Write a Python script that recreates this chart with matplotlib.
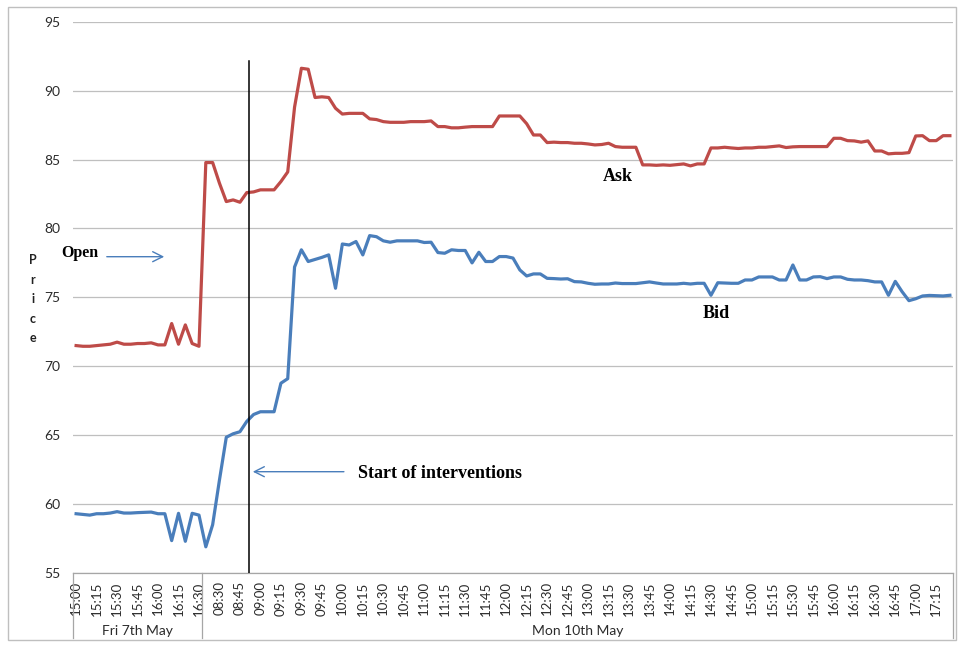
import matplotlib
matplotlib.use("Agg")
import matplotlib.pyplot as plt
import matplotlib.transforms as mtransforms
from matplotlib.patches import Rectangle


def time_range(start, end, step=5):
    h, m = map(int, start.split(":"))
    eh, em = map(int, end.split(":"))
    t, stop, out = h * 60 + m, eh * 60 + em, []
    while t <= stop:
        out.append(f"{t // 60:02d}:{t % 60:02d}")
        t += step
    return out


# ---------------- data ----------------
fri_times = time_range("15:00", "16:30")
mon_times = time_range("08:20", "17:25")
categories = fri_times + mon_times
day_labels = ["Fri 7th May", "Mon 10th May"]
day_sizes = [len(fri_times), len(mon_times)]

ask_fri = [71.5, 71.45, 71.45, 71.5, 71.55, 71.6, 71.75, 71.6, 71.6, 71.65,
           71.65, 71.7, 71.55, 71.55, 73.1, 71.6, 73.0, 71.65, 71.45]
ask_mon = [84.78, 84.78, 83.28, 81.95, 82.07, 81.9, 82.6, 82.65, 82.8, 82.8,
           82.8, 83.4, 84.1, 88.8, 91.62, 91.55, 89.5, 89.55, 89.5, 88.72,
           88.3, 88.35, 88.35, 88.35, 87.95, 87.9, 87.75, 87.7, 87.7, 87.7,
           87.75, 87.75, 87.75, 87.8, 87.39, 87.39, 87.3, 87.3, 87.35, 87.39,
           87.39, 87.39, 87.39, 88.16, 88.16, 88.16, 88.16, 87.6, 86.78, 86.78,
           86.23, 86.26, 86.23, 86.23, 86.18, 86.18, 86.13, 86.06, 86.09, 86.18,
           85.94, 85.89, 85.89, 85.89, 84.61, 84.61, 84.58, 84.61, 84.58, 84.63,
           84.68, 84.54, 84.68, 84.68, 85.84, 85.84, 85.89, 85.84, 85.8, 85.84,
           85.84, 85.89, 85.89, 85.94, 85.99, 85.87, 85.92, 85.94, 85.94, 85.94,
           85.94, 85.94, 86.54, 86.54, 86.37, 86.35, 86.26, 86.35, 85.62, 85.62,
           85.41, 85.45, 85.45, 85.5, 86.71, 86.73, 86.37, 86.37, 86.73, 86.73]
ask = ask_fri + ask_mon

bid_fri = [59.3, 59.25, 59.2, 59.3, 59.3, 59.35, 59.45, 59.35, 59.35, 59.38,
           59.4, 59.42, 59.3, 59.3, 57.35, 59.33, 57.3, 59.33, 59.2]
bid_mon = [56.9, 58.5, 61.75, 64.85, 65.1, 65.25, 66.0, 66.5, 66.7, 66.7,
           66.7, 68.77, 69.1, 77.2, 78.45, 77.6, 77.75, 77.9, 78.08, 75.66,
           78.87, 78.8, 79.05, 78.08, 79.48, 79.4, 79.1, 79.0, 79.1, 79.1,
           79.1, 79.1, 78.98, 79.0, 78.25, 78.2, 78.45, 78.4, 78.4, 77.5,
           78.27, 77.6, 77.6, 77.96, 77.96, 77.85, 76.99, 76.55, 76.7, 76.7,
           76.38, 76.36, 76.33, 76.35, 76.14, 76.12, 76.02, 75.95, 75.97, 75.97,
           76.04, 76.0, 76.0, 76.0, 76.06, 76.12, 76.04, 75.97, 75.97, 75.97,
           76.02, 75.97, 76.02, 76.02, 75.15, 76.06, 76.04, 76.02, 76.02, 76.26,
           76.26, 76.48, 76.48, 76.48, 76.26, 76.26, 77.35, 76.26, 76.26, 76.48,
           76.5, 76.36, 76.48, 76.48, 76.31, 76.26, 76.26, 76.21, 76.12, 76.12,
           75.15, 76.16, 75.41, 74.76, 74.9, 75.1, 75.14, 75.12, 75.1, 75.15]
bid = bid_fri + bid_mon

y_ticks = [55, 60, 65, 70, 75, 80, 85, 90, 95]
x_label_step = 3

# ---------------- figure ----------------
W, H = 958, 645
fig = plt.figure(figsize=(W / 100, H / 100), dpi=100)
fig.patch.set_facecolor("white")

ax_l, ax_r, ax_t, ax_b = 72.7, 953.3, 21.7, 573.0
ax = fig.add_axes([ax_l / W, 1 - ax_b / H, (ax_r - ax_l) / W, (ax_b - ax_t) / H])

n = len(categories)
xs = list(range(n))
RED = "#BE4B48"
BLUE = "#4A7EBB"
ax.plot(xs, ask, color=RED, lw=2.3, solid_joinstyle="round", zorder=3)
ax.plot(xs, bid, color=BLUE, lw=2.3, solid_joinstyle="round", zorder=3)

ax.set_xlim(-0.5, n - 0.5)
ax.set_ylim(y_ticks[0], y_ticks[-1])
ax.set_yticks(y_ticks)
ax.set_yticklabels([str(v) for v in y_ticks])
ax.yaxis.grid(True, color="#BFBFBF", lw=0.9)
ax.set_axisbelow(True)
for s in ["left", "right", "top"]:
    ax.spines[s].set_visible(False)
ax.spines["bottom"].set_color("#A6A6A6")
ax.spines["bottom"].set_linewidth(0.9)

tick_idx = list(range(0, n, x_label_step))
ax.set_xticks(tick_idx)
ax.set_xticklabels([categories[i] for i in tick_idx], rotation=90)
ax.tick_params(axis="x", length=0, pad=6, labelsize=9.5, labelcolor="#2b2b2b")
ax.tick_params(axis="y", length=0, pad=9, labelsize=10, labelcolor="#2b2b2b")
for lab in ax.get_xticklabels() + ax.get_yticklabels():
    lab.set_fontfamily("Lato")

# multi-level category axis separators and day labels
blend = mtransforms.blended_transform_factory(ax.transData, ax.transAxes)
depth = (638 - ax_b) / (ax_b - ax_t)
bounds = [-0.5]
for sz in day_sizes:
    bounds.append(bounds[-1] + sz)
for b in bounds:
    ax.plot([b, b], [0, -depth], transform=blend, color="#A6A6A6", lw=0.9, clip_on=False)
label_y = -(631 - ax_b) / (ax_b - ax_t)
for i, lab in enumerate(day_labels):
    ax.text((bounds[i] + bounds[i + 1]) / 2, label_y, lab, transform=blend,
            ha="center", va="center", fontsize=10, family="Lato", color="#2b2b2b")

# intervention marker line
intervention_x = 25.26
ax.plot([intervention_x, intervention_x], [y_ticks[0], 92.15], color="black", lw=1.1, zorder=4)


def fp(x, y):
    return (x, H - y)


# annotations
serif = "Liberation Serif"
fig.text(79.5 / W, 1 - 253 / H, "Open", ha="center", va="center", fontsize=11.5,
         fontweight="bold", family=serif)
ax.annotate("", xy=fp(167, 256.7), xytext=fp(104, 256.7), xycoords="figure pixels",
            textcoords="figure pixels",
            arrowprops=dict(arrowstyle="->", color=BLUE, lw=1.0, mutation_scale=18))
fig.text(358 / W, 1 - 474 / H, "Start of interventions", ha="left", va="center",
         fontsize=13, fontweight="bold", family=serif)
ax.annotate("", xy=fp(250, 471.7), xytext=fp(346.7, 471.7), xycoords="figure pixels",
            textcoords="figure pixels",
            arrowprops=dict(arrowstyle="->", color=BLUE, lw=1.0, mutation_scale=18))
fig.text(618 / W, 1 - 177 / H, "Ask", ha="center", va="center", fontsize=13,
         fontweight="bold", family=serif)
fig.text(716 / W, 1 - 314 / H, "Bid", ha="center", va="center", fontsize=13,
         fontweight="bold", family=serif)

# stacked y-axis title
for ch, yy in zip("Price", [260, 280, 299, 319, 338]):
    fig.text(33 / W, 1 - yy / H, ch, ha="center", va="center", fontsize=9,
             fontweight="bold", family="Lato", color="#222222")

# chart frame
fig.patches.append(Rectangle((8 / W, 1 - 640 / H), (956 - 8) / W, (640 - 6.7) / H,
                             transform=fig.transFigure, fill=False,
                             ec="#BFBFBF", lw=1.0))

fig.savefig("out.png", dpi=100)
